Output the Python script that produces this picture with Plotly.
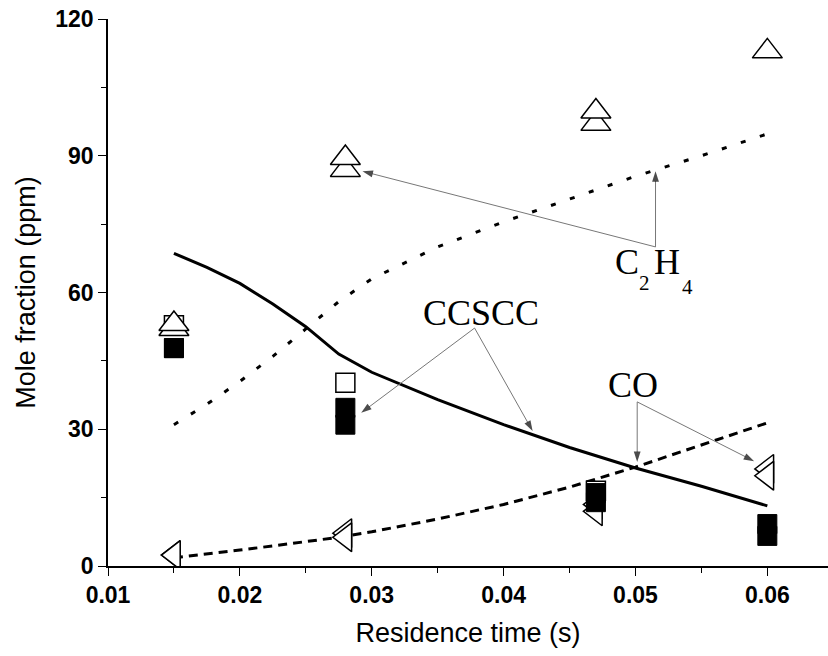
import plotly.graph_objects as go

# ---- data ----
model_t = [0.015, 0.0175, 0.02, 0.0225, 0.025, 0.0275, 0.03, 0.035, 0.04, 0.045, 0.05, 0.055, 0.06]
ccscc_model = [68.6, 65.5, 62.0, 57.5, 52.5, 46.5, 42.5, 36.5, 31.0, 26.0, 21.5, 17.5, 13.2]
c2h4_model = [31.0, 35.5, 40.5, 46.0, 52.0, 58.0, 63.0, 70.0, 75.5, 80.5, 85.5, 90.0, 94.8]
co_model = [1.8, 2.6, 3.5, 4.4, 5.3, 6.3, 7.5, 10.3, 13.5, 17.3, 21.7, 26.5, 31.4]

t_exp = [0.015, 0.028, 0.047, 0.06]
c2h4_run1 = [53.1, 89.5, 99.7, 112.9]
c2h4_run2 = [52.0, 86.9, 97.0]
ccscc_open = [52.8, 40.2, 16.5]
ccscc_fill1 = [47.8, 34.7, 16.0, 9.2]
ccscc_fill2 = [47.8, 31.0, 14.0, 6.6]
co_run1 = [2.4, 7.2, 13.5, 21.3]
co_run2 = [2.4, 6.3, 12.0, 19.8]

# label pointers: (tail x, tail y, head x, head y)
pointers = [
    (0.05152, 70.0, 0.05152, 86.6),
    (0.05152, 70.0, 0.0293, 86.6),
    (0.0378, 52.2, 0.0292, 33.6),
    (0.0378, 52.2, 0.0422, 29.6),
    (0.05013, 36.0, 0.05013, 22.8),
    (0.05013, 36.0, 0.0590, 23.0),
]

# text labels: (text, x, y, font size)
labels = [
    ("C", 0.04932, 66.6, 36),
    ("2", 0.05068, 62.0, 21),
    ("H", 0.05239, 66.6, 36),
    ("4", 0.05398, 61.1, 21),
    ("CCSCC", 0.03825, 55.5, 36),
    ("CO", 0.0498, 39.7, 36),
]

fig = go.Figure()

# model curves
fig.add_trace(go.Scatter(x=model_t, y=c2h4_model, mode="lines",
                         line=dict(color="black", width=3, dash="5px,15px")))
fig.add_trace(go.Scatter(x=model_t, y=co_model, mode="lines",
                         line=dict(color="black", width=3, dash="9px,6px")))
fig.add_trace(go.Scatter(x=model_t, y=ccscc_model, mode="lines",
                         line=dict(color="black", width=3)))

open_style = dict(color="white", line=dict(color="black", width=1.5))
# CO (left triangles)
fig.add_trace(go.Scatter(x=t_exp, y=co_run1, mode="markers",
                         marker=dict(symbol="triangle-left", size=25, **open_style)))
fig.add_trace(go.Scatter(x=t_exp, y=co_run2, mode="markers",
                         marker=dict(symbol="triangle-left", size=25, **open_style)))
# CCSCC squares
fig.add_trace(go.Scatter(x=t_exp[:3], y=ccscc_open, mode="markers",
                         marker=dict(symbol="square", size=19, **open_style)))
fig.add_trace(go.Scatter(x=t_exp, y=ccscc_fill1, mode="markers",
                         marker=dict(symbol="square", size=19, color="black",
                                     line=dict(color="black", width=1))))
fig.add_trace(go.Scatter(x=t_exp, y=ccscc_fill2, mode="markers",
                         marker=dict(symbol="square", size=19, color="black",
                                     line=dict(color="black", width=1))))
# C2H4 triangles
fig.add_trace(go.Scatter(x=t_exp[:3], y=c2h4_run2, mode="markers",
                         marker=dict(symbol="triangle-up", size=26, **open_style)))
fig.add_trace(go.Scatter(x=t_exp, y=c2h4_run1, mode="markers",
                         marker=dict(symbol="triangle-up", size=26, **open_style)))

# pointer lines with arrowheads
for tx, ty, hx, hy in pointers:
    fig.add_trace(go.Scatter(x=[tx, hx], y=[ty, hy], mode="lines+markers",
                             line=dict(color="#777", width=1),
                             marker=dict(symbol="arrow", size=[0, 11], color="black",
                                         angleref="previous", line=dict(width=0))))

for txt, x, y, sz in labels:
    fig.add_annotation(x=x, y=y, text=txt, showarrow=False,
                       font=dict(family="Liberation Serif", size=sz, color="black"),
                       xanchor="center", yanchor="middle")

tickfont = dict(family="Liberation Sans", size=23, color="black", weight="bold")
titlefont = dict(family="Liberation Sans", size=27, color="black")

fig.update_xaxes(range=[0.01, 0.0646], tickvals=[0.01, 0.02, 0.03, 0.04, 0.05, 0.06],
                 ticktext=["0.01", "0.02", "0.03", "0.04", "0.05", "0.06"],
                 ticks="outside", ticklen=8, tickwidth=1.2, tickcolor="black",
                 minor=dict(tickvals=[0.015, 0.025, 0.035, 0.045, 0.055], ticks="outside",
                            ticklen=5, tickwidth=1.2, tickcolor="black"),
                 showline=True, linecolor="black", linewidth=1.5, showgrid=False,
                 zeroline=False, tickfont=tickfont,
                 title=dict(text="Residence time (s)", font=titlefont, standoff=16))
fig.update_yaxes(range=[0, 120], tickvals=[0, 30, 60, 90, 120],
                 ticks="outside", ticklen=8, tickwidth=1.2, tickcolor="black",
                 minor=dict(tickvals=[15, 45, 75, 105], ticks="outside",
                            ticklen=5, tickwidth=1.2, tickcolor="black"),
                 showline=True, linecolor="black", linewidth=1.5, showgrid=False,
                 zeroline=False, tickfont=tickfont,
                 title=dict(text="Mole fraction (ppm)", font=titlefont, standoff=12))

fig.update_layout(width=828, height=656, showlegend=False,
                  plot_bgcolor="white", paper_bgcolor="white",
                  margin=dict(l=108, r=0, t=19, b=90))

fig.write_html("out.html")
